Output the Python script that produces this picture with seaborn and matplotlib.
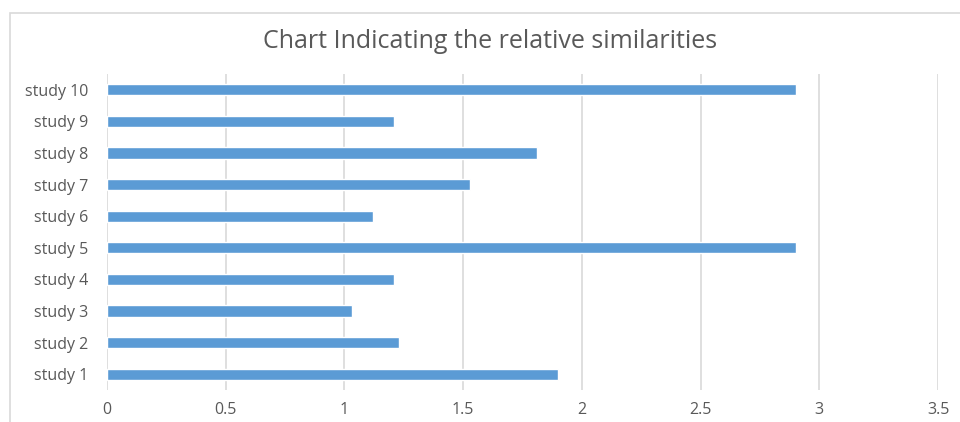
import matplotlib
matplotlib.use("Agg")
import matplotlib.pyplot as plt
import seaborn as sns
import pandas as pd
from matplotlib.patches import Rectangle

studies = ["study 1", "study 2", "study 3", "study 4", "study 5",
           "study 6", "study 7", "study 8", "study 9", "study 10"]
similarity = [1.90, 1.23, 1.03, 1.21, 2.90, 1.12, 1.53, 1.81, 1.21, 2.90]
x_ticks = [0, 0.5, 1, 1.5, 2, 2.5, 3, 3.5]
x_tick_labels = ["0", "0.5", "1", "1.5", "2", "2.5", "3", "3.5"]

df = pd.DataFrame({"study": studies, "similarity": similarity})

sns.set_style("white")
plt.rcParams["font.family"] = ["Open Sans", "DejaVu Sans"]

fig = plt.figure(figsize=(9.6, 4.22), dpi=100)
ax = fig.add_axes([107 / 960, 1 - 390 / 422, (938 - 107) / 960, (390 - 74) / 422])

# outer chart frame (light grey, like the Excel chart area)
fig.patches.append(Rectangle((10 / 960, -0.05), 1.0, 1 - 13 / 422 + 0.05,
                             transform=fig.transFigure, fill=False,
                             edgecolor="#d9d9d9", linewidth=1.2))

sns.barplot(data=df, x="similarity", y="study", order=studies[::-1],
            color="#5B9BD5", width=0.36, saturation=1, ax=ax, zorder=3)

ax.set_xlim(0, 3.5)
ax.set_xticks(x_ticks)
ax.set_xticklabels(x_tick_labels)
ax.xaxis.grid(True, color="#d9d9d9", linewidth=1.2, zorder=0)
ax.set_axisbelow(True)
for s in ax.spines.values():
    s.set_visible(False)
ax.tick_params(axis="both", length=0, colors="#595959", labelsize=11.5)
ax.tick_params(axis="x", pad=9)
ax.tick_params(axis="y", pad=13.5)
ax.set_xlabel("")
ax.set_ylabel("")

fig.text(490 / 960, 1 - 42 / 422, "Chart Indicating the relative similarities",
         ha="center", va="center", fontsize=18, color="#595959")

fig.savefig("out.png", dpi=100)
